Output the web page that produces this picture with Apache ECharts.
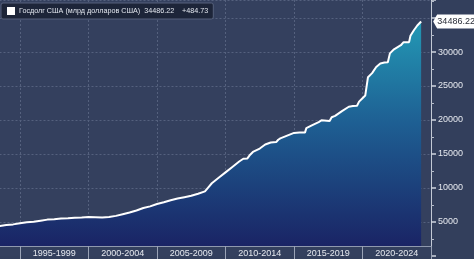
<!DOCTYPE html>
<html>
<head>
<meta charset="utf-8">
<script src="https://cdn.jsdelivr.net/npm/echarts@6/dist/echarts.min.js"></script>
<style>
html,body{margin:0;padding:0;background:#333f5c;}
#chart{width:474px;height:259px;}
</style>
</head>
<body>
<div id="chart"></div>
<script>
const seriesName = 'Госдолг США (млрд долларов США)';
const lastValueText = '34486.22';
const changeText = '+484.73';
const periodLabels = ['1995-1999','2000-2004','2005-2009','2010-2014','2015-2019','2020-2024'];
const periodMids = [1997.5, 2002.5, 2007.5, 2012.5, 2017.5, 2022.5];
const yTicks = [5000, 10000, 15000, 20000, 25000, 30000];

const years = [
  1993.5, 1994.0, 1994.5, 1995.0, 1995.5, 1996.0, 1996.5, 1997.0, 1997.5, 1998.0,
  1998.5, 1999.0, 1999.5, 2000.0, 2000.5, 2001.0, 2001.5, 2002.0, 2002.5, 2003.0,
  2003.5, 2004.0, 2004.5, 2005.0, 2005.5, 2006.0, 2006.5, 2007.0, 2007.5, 2008.0,
  2008.5, 2008.75, 2009.0, 2009.5, 2010.0, 2010.5, 2011.0, 2011.3, 2011.6, 2011.8,
  2012.0, 2012.5, 2012.9, 2013.3, 2013.7, 2013.85, 2014.0, 2014.5, 2015.0, 2015.4,
  2015.8, 2015.9, 2016.3, 2016.8, 2017.0, 2017.6, 2017.75, 2018.0, 2018.5, 2019.0,
  2019.3, 2019.6, 2019.75, 2020.0, 2020.2, 2020.4, 2020.7, 2021.0, 2021.3, 2021.6,
  2021.85, 2022.0, 2022.3, 2022.8, 2023.0, 2023.4, 2023.5, 2023.75, 2024.0, 2024.28
];
const debt = [
  4400, 4550, 4650, 4800, 4950, 5050, 5200, 5350, 5400, 5500,
  5550, 5620, 5660, 5720, 5700, 5680, 5730, 5900, 6150, 6400,
  6700, 7050, 7300, 7650, 7900, 8200, 8450, 8650, 8850, 9150,
  9500, 10100, 10700, 11500, 12300, 13100, 13900, 14300, 14350, 14900,
  15300, 15800, 16400, 16700, 16750, 17100, 17300, 17700, 18100, 18150,
  18150, 18800, 19200, 19700, 19950, 19850, 20400, 20600, 21300, 21950,
  22050, 22100, 22700, 23200, 23600, 26300, 26900, 27800, 28300, 28450,
  28500, 29800, 30400, 31000, 31450, 31450, 32400, 33200, 33900, 34486.22
];

const FONT = '"Liberation Sans", Arial, sans-serif';
const data = years.map((y, i) => [y, debt[i]]);
const lastIdx = years.length - 1;

const chart = echarts.init(document.getElementById('chart'));
chart.setOption({
  backgroundColor: '#333f5c',
  animation: false,
  grid: {
    left: -48.5, right: 43, top: 0, bottom: 3,
    outerBoundsMode: 'none',
    containLabel: false,
    show: true, backgroundColor: '#34405e', borderWidth: 0
  },
  legend: {
    left: 1, top: 3,
    padding: [4, 5, 4, 6],
    backgroundColor: '#1d2539',
    borderColor: '#56617c', borderWidth: 1, borderRadius: 2,
    icon: 'rect', itemWidth: 8, itemHeight: 8, itemGap: 4,
    textStyle: { color: '#e2e6ee', fontSize: 7.2, fontFamily: FONT, padding: [0, 0, 0, -1] },
    formatter: name => name + '  ' + lastValueText + '    ' + changeText,
    data: [{ name: seriesName, itemStyle: { color: '#ffffff' } }]
  },
  xAxis: [
    {
      type: 'value', min: 1990, max: 2025, interval: 5,
      position: 'bottom', offset: -10,
      axisLine: { show: true, lineStyle: { color: '#8f99ae', width: 1 } },
      axisTick: { show: true, inside: false, length: 13, lineStyle: { color: '#9aa3b6' } },
      axisLabel: { show: false },
      splitLine: { show: true, lineStyle: { color: '#55617e', type: [2, 2], width: 1 } }
    },
    {
      type: 'value', min: 1990, max: 2025, interval: 2.5,
      position: 'bottom', offset: -10,
      axisLine: { show: false }, axisTick: { show: false }, splitLine: { show: false },
      axisLabel: {
        show: true, margin: 3, color: '#e6e9ef', fontSize: 9, fontFamily: FONT,
        showMinLabel: true, showMaxLabel: true,
        formatter: v => {
          const i = periodMids.indexOf(Math.round(v * 10) / 10);
          return i >= 0 ? periodLabels[i] : '';
        }
      }
    }
  ],
  yAxis: {
    type: 'value', position: 'right', min: 0, max: 37650, interval: 5000,
    axisLine: { show: true, lineStyle: { color: '#c3c9d5', width: 1 } },
    axisTick: { show: true, inside: false, length: 5, lineStyle: { color: '#d0d5de', width: 1.5 } },
    minorTick: { show: true, splitNumber: 2, length: 3, lineStyle: { color: '#b4bbc9' } },
    axisLabel: {
      margin: 7, color: '#e6e9ef', fontSize: 9, fontFamily: FONT,
      formatter: v => (yTicks.indexOf(v) >= 0 ? String(v) : '')
    },
    splitLine: { show: true, showMinLine: false, lineStyle: { color: '#55617e', type: [2, 2], width: 1 } }
  },
  series: [{
    name: seriesName,
    type: 'line',
    xAxisIndex: 0,
    data: data,
    showSymbol: false,
    symbol: 'none',
    itemStyle: { color: '#ffffff' },
    lineStyle: { color: '#ffffff', width: 2 },
    areaStyle: {
      origin: 1470,
      opacity: 1,
      color: new echarts.graphic.LinearGradient(0, 0, 0, 1, [
        { offset: 0, color: '#2399b5' },
        { offset: 0.45, color: '#1e5f93' },
        { offset: 1, color: '#1a2465' }
      ])
    },
    markPoint: {
      symbol: 'path://M0,6 L4,0 L44,0 L44,12 L4,12 Z',
      symbolKeepAspect: false,
      symbolSize: [44, 14],
      symbolOffset: [34, 0],
      itemStyle: { color: '#ffffff', borderWidth: 0 },
      label: {
        show: true, position: 'inside', offset: [1, 0],
        color: '#2b2f3a', fontSize: 9, fontFamily: FONT,
        formatter: () => lastValueText
      },
      data: [{ coord: data[lastIdx] }]
    }
  }]
});
</script>
</body>
</html>
